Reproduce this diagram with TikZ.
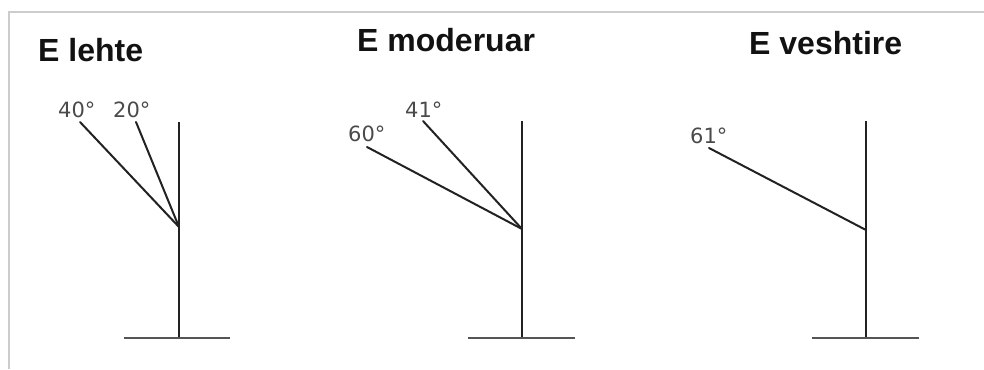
\documentclass[tikz,border=0pt]{standalone}
\usepackage{fontspec}
\setmainfont{Liberation Sans}
\newfontfamily\labelfont{DejaVu Sans}
\definecolor{framegray}{HTML}{CCCCCC}
\definecolor{linedark}{HTML}{222222}
\definecolor{basegray}{HTML}{555555}
\definecolor{labelgray}{HTML}{4A4A4A}
\begin{document}
\begin{tikzpicture}[x=1pt,y=-1pt,
  title/.style={anchor=base west,inner sep=0pt,font=\fontsize{32}{36}\selectfont\bfseries,text=black!93},
  anglabel/.style={anchor=base west,inner sep=0pt,font=\labelfont\fontsize{21}{24}\selectfont,text=labelgray},
  stem/.style={draw=linedark,line width=2pt},
  ray/.style={draw=linedark,line width=2pt,line cap=round},
  basebar/.style={draw=basegray,line width=2.6pt},
  frame/.style={draw=framegray,line width=2.6pt}]
\useasboundingbox (0,0) rectangle (984,369);
% frame
\coordinate (fl) at (9,369);
\coordinate (fc) at (9,12);
\coordinate (fr) at (984,12);
\draw[frame] (fl) -- (fc) -- (fr);
% titles
\node[title] (t1) at (38,62) {E lehte};
\node[title] (t2) at (357,52) {E moderuar};
\node[title] (t3) at (749,55) {E veshtire};
% panel 1
\coordinate (s1top) at (179,122);
\coordinate (s1j) at (179,227);
\coordinate (s1bot) at (179,338);
\coordinate (b1l) at (124,338);
\coordinate (b1r) at (230,338);
\coordinate (r40) at (80,122);
\coordinate (r20) at (136,122);
\draw[stem] (s1top) -- (s1bot);
\draw[basebar] (b1l) -- (b1r);
\draw[ray] (r40) -- (s1j);
\draw[ray] (r20) -- (s1j);
\node[anglabel] (l40) at (58,117) {40°};
\node[anglabel] (l20) at (113,117) {20°};
% panel 2
\coordinate (s2top) at (522,121);
\coordinate (s2j) at (522,229);
\coordinate (s2bot) at (522,338);
\coordinate (b2l) at (468,338);
\coordinate (b2r) at (575,338);
\coordinate (r60) at (367,147);
\coordinate (r41) at (423,121);
\draw[stem] (s2top) -- (s2bot);
\draw[basebar] (b2l) -- (b2r);
\draw[ray] (r60) -- (s2j);
\draw[ray] (r41) -- (s2j);
\node[anglabel] (l60) at (348,141) {60°};
\node[anglabel] (l41) at (405,117) {41°};
% panel 3
\coordinate (s3top) at (866,121);
\coordinate (s3j) at (866,230);
\coordinate (s3bot) at (866,338);
\coordinate (b3l) at (812,338);
\coordinate (b3r) at (919,338);
\coordinate (r61) at (709,148);
\draw[stem] (s3top) -- (s3bot);
\draw[basebar] (b3l) -- (b3r);
\draw[ray] (r61) -- (s3j);
\node[anglabel] (l61) at (690,143) {61°};
\end{tikzpicture}
\end{document}
